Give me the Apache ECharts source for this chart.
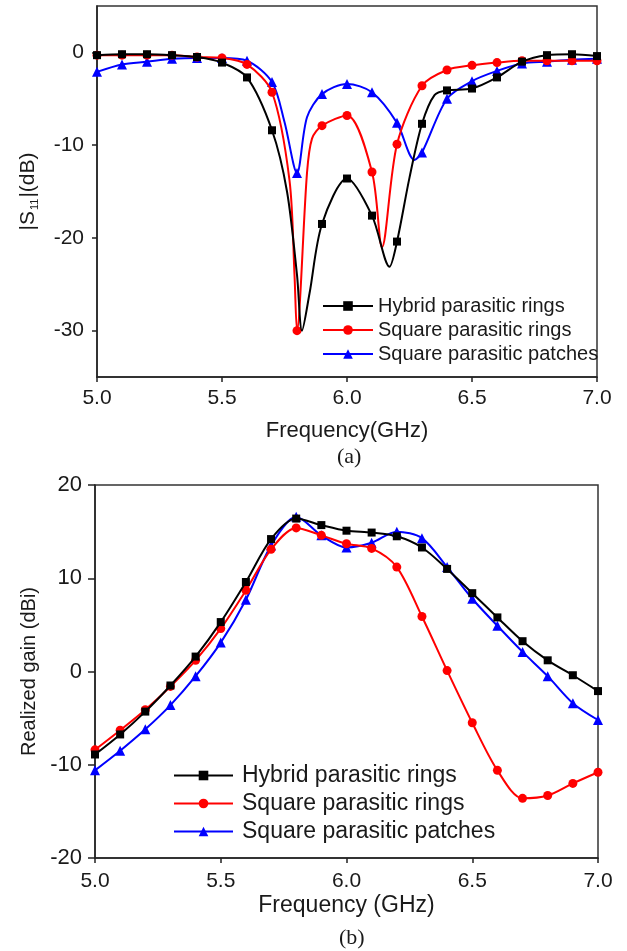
<!DOCTYPE html>
<html>
<head>
<meta charset="utf-8">
<script src="https://cdn.jsdelivr.net/npm/echarts@6/dist/echarts.min.js"></script>
<style>html,body{margin:0;padding:0;background:#fff}#c{width:627px;height:951px}</style>
</head>
<body>
<div id="c"></div>
<script>
// ---------- data ----------
const seriesNames = ['Hybrid parasitic rings', 'Square parasitic rings', 'Square parasitic patches'];
const freq = [5.0,5.1,5.2,5.3,5.4,5.5,5.6,5.7,5.8,5.9,6.0,6.1,6.2,6.3,6.4,6.5,6.6,6.7,6.8,6.9,7.0];
const freqHybridA = [5.0,5.1,5.2,5.3,5.4,5.5,5.6,5.7,5.9,6.0,6.1,6.2,6.3,6.4,6.5,6.6,6.7,6.8,6.9,7.0];
const xTicks = [5.0, 5.5, 6.0, 6.5, 7.0];
const s11Ticks = [-30, -20, -10, 0];
const gainTicks = [-20, -10, 0, 10, 20];

// (a) |S11| (dB), marker points
const s11Hybrid  = [-0.3,-0.2,-0.2,-0.3,-0.5,-1.1,-2.7,-8.4,-18.5,-13.6,-17.6,-20.4,-7.7,-4.1,-3.9,-2.7,-1.0,-0.3,-0.2,-0.4];
const s11Square  = [-0.3,-0.3,-0.3,-0.3,-0.5,-0.6,-1.3,-4.3,-30.0,-7.9,-6.8,-12.9,-9.9,-3.6,-1.9,-1.4,-1.1,-0.9,-0.9,-0.9,-0.9];
const s11Patch   = [-2.1,-1.3,-1.0,-0.7,-0.6,-0.6,-0.9,-3.2,-13.0,-4.5,-3.4,-4.3,-7.6,-10.8,-5.0,-3.1,-2.0,-1.2,-1.0,-0.8,-0.7];
// (a) extra curve points between markers
const s11HybridExtraF = [5.76, 5.8, 5.82, 5.85, 6.17, 6.25, 6.35];
const s11HybridExtraV = [-15.0, -24.0, -30.0, -26.0, -23.1, -13.5, -4.6];
const s11SquareExtraF = [5.77, 5.79, 5.84, 5.86, 6.14];
const s11SquareExtraV = [-13.8, -24.0, -13.0, -9.3, -21.0];
const s11PatchExtraF  = [5.75, 5.84, 6.27];
const s11PatchExtraV  = [-7.5, -7.0, -11.6];

// (b) realized gain (dBi)
const gainHybrid = [-8.9,-6.75,-4.3,-1.5,1.6,5.3,9.6,14.2,16.4,15.7,15.1,14.9,14.5,13.3,11.0,8.4,5.8,3.25,1.2,-0.4,-2.1];
const gainSquare = [-8.4,-6.3,-4.1,-1.6,1.2,4.6,8.7,13.1,15.4,14.6,13.7,13.2,11.2,5.9,0.1,-5.5,-10.6,-13.6,-13.3,-12.0,-10.8];
const gainPatch  = [-10.6,-8.5,-6.2,-3.6,-0.5,3.1,7.7,13.5,16.6,14.6,13.3,13.8,15.0,14.3,11.2,7.8,4.9,2.1,-0.5,-3.4,-5.2];

// ---------- build ----------
function build(f, v, ef, ev) {
  const pts = f.map((x, i) => ({ value: [x, v[i]] }));
  (ef || []).forEach((x, i) => pts.push({ value: [x, ev[i]], symbol: 'none' }));
  pts.sort((a, b) => a.value[0] - b.value[0]);
  return pts;
}
const colors = ['#000000', '#ff0000', '#0000ff'];
const symbols = ['rect', 'circle', 'triangle'];
const symSizes = [8, 9, 10];

const font = 'Liberation Sans, Arial, sans-serif';
const txt = '#1a1a1a';

function xAxis(gi, gap) {
  return {
    type: 'value', gridIndex: gi, min: 5, max: 7, interval: 0.5,
    axisLine: { show: true, onZero: false, lineStyle: { color: '#222', width: 1.5 } },
    axisTick: { show: true, inside: false, length: 5, lineStyle: { color: '#222', width: 1.5 } },
    axisLabel: { margin: gap, color: txt, fontFamily: font, fontSize: 21, formatter: v => v.toFixed(1) },
    splitLine: { show: false }
  };
}

function mkSeries(gi, arrs) {
  return arrs.map((d, i) => ({
    name: seriesNames[i], type: 'line', xAxisIndex: gi, yAxisIndex: gi,
    data: d, smooth: 0.3, symbol: symbols[i], symbolSize: symSizes[i],
    lineStyle: { color: colors[i], width: 2 },
    itemStyle: { color: colors[i] }, color: colors[i],
    z: 3 - i, animation: false
  }));
}

const option = {
  animation: false,
  backgroundColor: '#fff',
  grid: [
    { left: 97, right: 30, top: 6, height: 371, show: true, borderColor: '#333', borderWidth: 1.5, backgroundColor: 'transparent' },
    { left: 95, right: 29, top: 485, height: 373, show: true, borderColor: '#333', borderWidth: 1.5, backgroundColor: 'transparent' }
  ],
  legend: [
    { data: seriesNames, orient: 'vertical', left: 317, top: 291, itemWidth: 50, itemHeight: 12, itemGap: 4,
      textStyle: { fontFamily: font, fontSize: 20, color: txt }, selectedMode: false },
    { data: seriesNames, orient: 'vertical', left: 168, top: 759, itemWidth: 59, itemHeight: 12, itemGap: 5,
      textStyle: { fontFamily: font, fontSize: 23, color: txt, padding: [0, 0, 0, 4] }, selectedMode: false }
  ],
  xAxis: [
    Object.assign(xAxis(0, 11), { name: 'Frequency(GHz)', nameLocation: 'middle', nameGap: 43,
      nameTextStyle: { fontFamily: font, fontSize: 22, color: txt } }),
    Object.assign(xAxis(1, 13), { name: 'Frequency (GHz)', nameLocation: 'middle', nameGap: 36,
      nameTextStyle: { fontFamily: font, fontSize: 23, color: txt } })
  ],
  yAxis: [
    { type: 'value', gridIndex: 0, min: -35, max: 5,
      axisLine: { show: true, onZero: false, lineStyle: { color: '#222', width: 1.5 } },
      axisTick: { show: true, length: 5, customValues: s11Ticks, lineStyle: { color: '#222', width: 1.5 } },
      axisLabel: { customValues: s11Ticks, margin: 13, color: txt, fontFamily: font, fontSize: 21 },
      splitLine: { show: false },
      name: '|S{sub|11}|(dB)', nameLocation: 'middle', nameRotate: 90, nameGap: 57,
      nameTextStyle: { fontFamily: font, fontSize: 21, color: txt,
        rich: { sub: { fontFamily: font, fontSize: 11, color: txt, verticalAlign: 'bottom', padding: [12, 1, 0, 1] } } }
    },
    { type: 'value', gridIndex: 1, min: -20, max: 20, interval: 10,
      axisLine: { show: true, onZero: false, lineStyle: { color: '#222', width: 1.5 } },
      axisTick: { show: true, length: 7, lineStyle: { color: '#222', width: 1.5 } },
      axisLabel: { margin: 13, color: txt, fontFamily: font, fontSize: 22 },
      splitLine: { show: false },
      name: 'Realized gain (dBi)', nameLocation: 'middle', nameRotate: 90, nameGap: 53,
      nameTextStyle: { fontFamily: font, fontSize: 20, color: txt }
    }
  ],
  graphic: [
    { type: 'text', left: 337, top: 446, style: { text: '(a)', font: '22px "Liberation Serif", "Times New Roman", serif', fill: txt } },
    { type: 'text', left: 339, top: 927, style: { text: '(b)', font: '22px "Liberation Serif", "Times New Roman", serif', fill: txt } }
  ],
  series: [
    ...mkSeries(0, [
      build(freqHybridA, s11Hybrid, s11HybridExtraF, s11HybridExtraV),
      build(freq, s11Square, s11SquareExtraF, s11SquareExtraV),
      build(freq, s11Patch, s11PatchExtraF, s11PatchExtraV)
    ]),
    ...mkSeries(1, [
      build(freq, gainHybrid),
      build(freq, gainSquare),
      build(freq, gainPatch)
    ])
  ]
};
const chart = echarts.init(document.getElementById('c'), null, { renderer: 'canvas' });
chart.setOption(option);
</script>
</body>
</html>
